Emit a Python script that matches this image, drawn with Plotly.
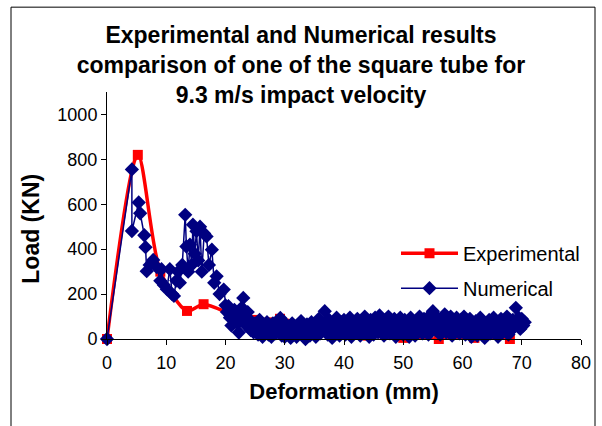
import plotly.graph_objects as go

# ---------------- data ----------------
exp_x = [0, 5.2, 9.0, 13.5, 16.3, 21.5, 25, 29.2, 34, 38, 44, 50, 56, 62, 68]
exp_y = [0, 820, 300, 125, 155, 105, 85, 90, 60, 45, 15, 5, 0, 5, 0]

num_x_early = [0, 4.2, 4.2, 5.35, 5.6, 6.3, 6.5, 6.7, 7.2, 7.8, 8.4, 9.0, 9.2, 9.6, 10.1, 10.6,
               11.0, 11.3, 11.7, 12.0, 12.3, 12.7, 13.2, 13.4, 13.7, 14.0, 14.3, 14.5, 14.8,
               15.1, 15.4, 15.7, 16.0, 16.4, 16.8, 17.2, 17.7, 18.1, 18.5, 19.0, 19.7]
num_y_early = [0, 755, 481, 608, 560, 462, 409, 302, 330, 352, 320, 259, 311, 240, 222, 311,
               200, 192, 260, 300, 251, 330, 553, 412, 300, 420, 330, 509, 380,
               480, 350, 500, 300, 470, 457, 330, 398, 250, 279, 200, 220]

num_x_band = [
    20.0, 20.25, 20.5, 20.75, 21.0, 21.25, 21.5, 21.75, 22.0, 22.25, 22.5, 22.75, 23.0, 23.25, 23.5, 23.75, 24.0, 24.25, 24.5, 24.75,
    25.0, 25.25, 25.5, 25.75, 26.0, 26.25, 26.5, 26.75, 27.0, 27.25, 27.5, 27.75, 28.0, 28.25, 28.5, 28.75, 29.0, 29.25, 29.5, 29.75,
    30.0, 30.25, 30.5, 30.75, 31.0, 31.25, 31.5, 31.75, 32.0, 32.25, 32.5, 32.75, 33.0, 33.25, 33.5, 33.75, 34.0, 34.25, 34.5, 34.75,
    35.0, 35.25, 35.5, 35.75, 36.0, 36.25, 36.5, 36.75, 37.0, 37.25, 37.5, 37.75, 38.0, 38.25, 38.5, 38.75, 39.0, 39.25, 39.5, 39.75,
    40.0, 40.25, 40.5, 40.75, 41.0, 41.25, 41.5, 41.75, 42.0, 42.25, 42.5, 42.75, 43.0, 43.25, 43.5, 43.75, 44.0, 44.25, 44.5, 44.75,
    45.0, 45.25, 45.5, 45.75, 46.0, 46.25, 46.5, 46.75, 47.0, 47.25, 47.5, 47.75, 48.0, 48.25, 48.5, 48.75, 49.0, 49.25, 49.5, 49.75,
    50.0, 50.25, 50.5, 50.75, 51.0, 51.25, 51.5, 51.75, 52.0, 52.25, 52.5, 52.75, 53.0, 53.25, 53.5, 53.75, 54.0, 54.25, 54.5, 54.75,
    55.0, 55.25, 55.5, 55.75, 56.0, 56.25, 56.5, 56.75, 57.0, 57.25, 57.5, 57.75, 58.0, 58.25, 58.5, 58.75, 59.0, 59.25, 59.5, 59.75,
    60.0, 60.25, 60.5, 60.75, 61.0, 61.25, 61.5, 61.75, 62.0, 62.25, 62.5, 62.75, 63.0, 63.25, 63.5, 63.75, 64.0, 64.25, 64.5, 64.75,
    65.0, 65.25, 65.5, 65.75, 66.0, 66.25, 66.5, 66.75, 67.0, 67.25, 67.5, 67.75, 68.0, 68.25, 68.5, 68.75, 69.0, 69.25, 69.5, 69.75,
    70.0, 70.25, 70.5]
num_y_band = [
    150, 120, 146, 95, 60, 110, 130, 101, 70, 29, 100, 140, 183, 90, 60, 120, 87, 40, 65, 30,
    70, 45, 20, 85, 50, 10, 60, 35, 75, 20, 55, 10, 70, 40, 25, 80, 45, 94, 15, 50,
    10, 65, 30, 50, 5, 70, 25, 45, 10, 60, 35, 80, 20, 55, 0, 65, 40, 15, 75, 30,
    60, 10, 50, 90, 25, 70, 45, 124, 60, 20, 85, 40, 5, 65, 30, 95, 50, 15, 75, 35,
    85, 20, 60, 40, 95, 10, 70, 50, 30, 90, 60, 15, 80, 40, 100, 25, 65, 10, 85, 45,
    20, 95, 55, 30, 105, 40, 70, 15, 85, 50, 100, 25, 65, 40, 90, 10, 75, 35, 95, 55,
    20, 85, 45, 70, 10, 95, 30, 60, 15, 80, 40, 100, 55, 25, 90, 45, 70, 20, 105, 60,
    124, 75, 40, 95, 55, 20, 85, 45, 110, 30, 70, 50, 100, 15, 80, 40, 95, 60, 25, 85,
    50, 100, 20, 70, 40, 90, 10, 60, 35, 80, 15, 55, 95, 30, 70, 5, 65, 40, 85, 25,
    60, 95, 35, 75, 10, 55, 90, 30, 70, 45, 100, 20, 65, 40, 85, 55, 139, 60, 95, 45,
    90, 60, 75]

num_x = num_x_early + num_x_band
num_y = num_y_early + num_y_band

x_ticks = [0, 10, 20, 30, 40, 50, 60, 70, 80]
y_ticks = [0, 200, 400, 600, 800, 1000]

title_lines = ["Experimental and Numerical results",
               "comparison of one of the square tube for",
               "9.3 m/s impact velocity"]
x_title = "Deformation (mm)"
y_title = "Load (KN)"

FONT = "Liberation Sans, Arial, sans-serif"

fig = go.Figure()
fig.add_trace(go.Scatter(
    x=exp_x, y=exp_y, name="Experimental", mode="lines+markers",
    line=dict(color="#FF0000", width=3.5, shape="spline", smoothing=0.8),
    marker=dict(symbol="square", size=10, color="#FF0000"),
    cliponaxis=False, legendgroup="a"))
fig.add_trace(go.Scatter(
    x=num_x, y=num_y, name="Numerical", mode="lines+markers",
    line=dict(color="#000080", width=1.5),
    marker=dict(symbol="diamond", size=11, color="#000080"),
    cliponaxis=False, legendgroup="b"))

L, R, T, B = 107, 21, 92, 86.5
W, H = 602, 426
pw, ph = W - L - R, H - T - B


def px_x(p):
    return (p - L) / pw


def px_y(p):
    return (H - B - p) / ph


bx0, bx1, by0, by1 = px_x(11), px_x(595), px_y(430), px_y(7)
border = dict(type="line", xref="paper", yref="paper",
              line=dict(color="black", width=1), layer="above")

fig.update_layout(
    width=W, height=H,
    margin=dict(l=L, r=R, t=T, b=B),
    paper_bgcolor="white", plot_bgcolor="white",
    font=dict(family=FONT, color="black", size=18),
    title=dict(text="<br>".join(title_lines), x=0.5, xref="container", xanchor="center",
               y=1 - 43 / H, yref="container", yanchor="top",
               font=dict(family=FONT, size=23, color="black", weight="bold")),
    showlegend=True,
    legend=dict(x=px_x(396), y=px_y(234), xanchor="left", yanchor="top",
                bgcolor="rgba(0,0,0,0)", font=dict(family=FONT, size=20, color="black"),
                itemwidth=57, traceorder="grouped", tracegroupgap=6),
    xaxis=dict(range=[0, 80], tickvals=x_ticks, ticktext=[str(v) for v in x_ticks],
               showgrid=False, zeroline=False, showline=True, linecolor="black", linewidth=1,
               ticks="outside", ticklen=5, tickcolor="black", tickfont=dict(size=18),
               ticklabelstandoff=2,
               title=dict(text=x_title, standoff=12,
                          font=dict(family=FONT, size=22, weight="bold")),
               automargin=False),
    yaxis=dict(range=[0, 1100], tickvals=y_ticks, ticktext=[str(v) for v in y_ticks],
               showgrid=False, zeroline=False, showline=True, linecolor="black", linewidth=1,
               ticks="outside", ticklen=5, tickcolor="black", tickfont=dict(size=18),
               automargin=False),
    annotations=[dict(text=y_title, xref="paper", yref="paper", x=px_x(31), y=px_y(229),
                      xanchor="center", yanchor="middle", textangle=-90, showarrow=False,
                      font=dict(family=FONT, size=23, color="black", weight="bold"))],
    shapes=[
        dict(border, x0=bx0, x1=bx0, y0=by0, y1=by1),
        dict(border, x0=bx1, x1=bx1, y0=by0, y1=by1),
        dict(border, x0=bx0, x1=bx1, y0=by1, y1=by1),
    ],
)

fig.write_html("out.html", config={"displayModeBar": False},
               post_script="document.body.style.margin='0';")
